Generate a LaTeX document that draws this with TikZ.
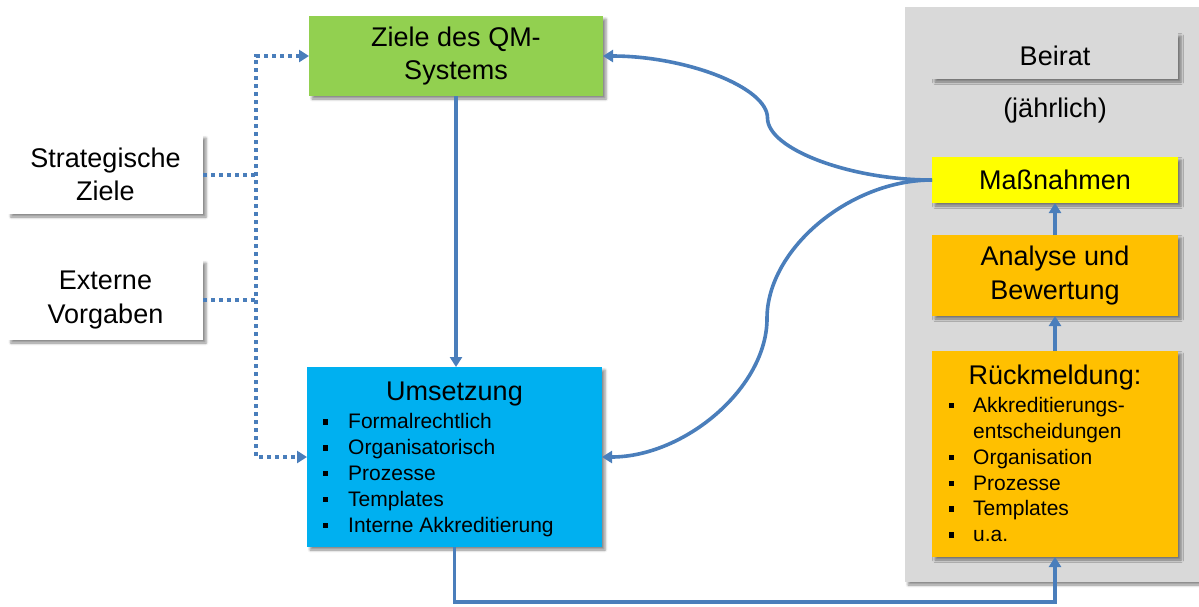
\documentclass[tikz,border=0pt]{standalone}
\usepackage{fontspec}
\setmainfont{Liberation Sans}
\usetikzlibrary{arrows.meta,calc,shadows.blur}

\definecolor{qmgreen}{HTML}{92D050}
\definecolor{qmblue}{HTML}{00B0F0}
\definecolor{qmyellow}{HTML}{FFFF00}
\definecolor{qmorange}{HTML}{FFC000}
\definecolor{panelgray}{HTML}{D9D9D9}
\definecolor{linkblue}{HTML}{4A7EBB}

% square bullet followed by the item text
\newcommand{\qmitem}[2]{\makebox[#1][l]{\raisebox{4pt}{\rule{5.5pt}{5.5pt}}}#2}

\begin{document}
\begin{tikzpicture}[x=1pt,y=-1pt,
  box/.style={inner sep=0pt, outer sep=0pt, align=center,
    font=\fontsize{27}{33.5}\selectfont,
    blur shadow={shadow xshift=3pt, shadow yshift=-3pt,
      shadow blur radius=2.5pt, shadow opacity=45}},
  title/.style={inner sep=0pt, anchor=base, font=\fontsize{27}{33.5}\selectfont},
  listtext/.style={inner sep=0pt, align=left, anchor=base west,
    font=\fontsize{21}{25.9}\selectfont},
  conn/.style={draw=linkblue, line width=3.6pt,
    -{Triangle[length=10pt,width=12pt]}},
  dots/.style={draw=linkblue, line width=4pt, dash pattern=on 4pt off 4pt},
]
\path[use as bounding box] (0,0) rectangle (1199,606);

% grey panel of the advisory board
\node[box, fill=panelgray, minimum width=296pt, minimum height=575pt] (panel) at (1053,294.5) {};

% left column
\node[box, fill=white, minimum width=195pt, minimum height=79pt] (strat) at (105.5,174.5) {Strategische\\Ziele};
\node[box, fill=white, minimum width=195pt, minimum height=80pt] (ext) at (105.5,300) {Externe\\Vorgaben};

% middle column
\node[box, fill=qmgreen, minimum width=294pt, minimum height=80pt] (ziele) at (456,56) {Ziele des QM-\\Systems};
\node[box, fill=qmblue, minimum width=295pt, minimum height=180pt] (ums) at (454.5,457) {};
\node[title] (umstitle) at (454.5,400) {Umsetzung};
% the list is placed by the baseline of its last line
\node[listtext] (umslist) at (322.5,532.2) {%
  \qmitem{25.5pt}{Formalrechtlich}\\
  \qmitem{25.5pt}{Organisatorisch}\\
  \qmitem{25.5pt}{Prozesse}\\
  \qmitem{25.5pt}{Templates}\\
  \qmitem{25.5pt}{Interne Akkreditierung}};

% right column
\node[box, fill=panelgray, minimum width=246pt, minimum height=46pt] (beirat) at (1055,56) {Beirat};
\node[title, anchor=center] (jaehrlich) at (1055,111) {(jährlich)};
\node[box, fill=qmyellow, minimum width=246pt, minimum height=46pt] (mass) at (1055,180) {Maßnahmen};
\node[box, fill=qmorange, minimum width=246pt, minimum height=81pt] (anal) at (1055,275.5) {Analyse und\\Bewertung};
\node[box, fill=qmorange, minimum width=246pt, minimum height=206pt] (rueck) at (1055,454) {};
\node[title] (ruecktitle) at (1055,384) {Rückmeldung:};
\node[listtext] (ruecklist) at (948.5,541.8) {%
  \qmitem{24.5pt}{Akkreditierungs-}\\
  \makebox[24.5pt]{}entscheidungen\\
  \qmitem{24.5pt}{Organisation}\\
  \qmitem{24.5pt}{Prozesse}\\
  \qmitem{24.5pt}{Templates}\\
  \qmitem{24.5pt}{u.a.}};

% dotted inputs on the left
\coordinate (spine) at (256,0);
\draw[dots, {Triangle[length=10pt,width=12pt]}-{Triangle[length=10pt,width=12pt]}]
  (ziele.west) -| (spine |- strat.east) |- (ums.west);
\draw[dots] (strat.east) -- (spine |- strat.east);
\draw[dots] (ext.east) -- (spine |- ext.east);

% main flow
\draw[conn] (ziele.south) -- (ziele.south |- ums.north);
\coordinate (low) at (0,602);
\draw[conn] (ums.south) -- (ums.south |- low) -| (rueck.south);
\draw[conn] (rueck.north) -- (anal.south);
\draw[conn] (anal.north) -- (mass.south);

% curved feedback from the measures
\coordinate (za) at ($(mass.west)!.25!(ziele.east)$);
\coordinate (zm) at ($(mass.west)!.5!(ziele.east)$);
\coordinate (zb) at ($(mass.west)!.75!(ziele.east)$);
\draw[conn] (mass.west) .. controls (za |- mass.west) and (zm |- za) .. (zm)
  .. controls (zm |- zb) and (zb |- ziele.east) .. (ziele.east);
\coordinate (ua) at ($(mass.west)!.25!(ums.east)$);
\coordinate (um) at ($(mass.west)!.5!(ums.east)$);
\coordinate (ub) at ($(mass.west)!.75!(ums.east)$);
\draw[conn] (mass.west) .. controls (ua |- mass.west) and (um |- ua) .. (um)
  .. controls (um |- ub) and (ub |- ums.east) .. (ums.east);
\end{tikzpicture}
\end{document}
